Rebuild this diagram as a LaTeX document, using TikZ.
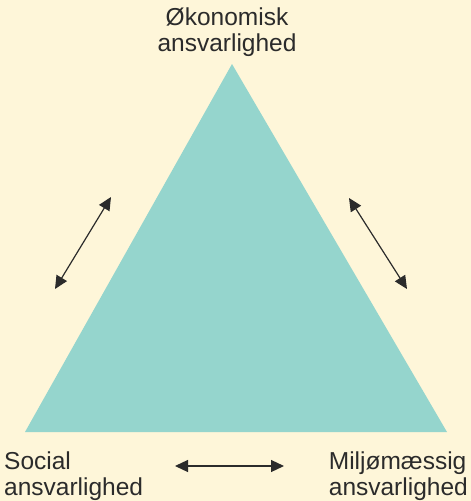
\documentclass[tikz,border=0pt]{standalone}
\usepackage{fontspec}
\setmainfont{Liberation Sans}
\usetikzlibrary{arrows.meta}

\begin{document}
\begin{tikzpicture}[x = 1pt, y = -1pt,
    label text/.style = {text = textGray, inner sep = 0pt, align = left,
      font = \fontsize{24.5}{26}\selectfont},
    link/.style = {{Triangle[length = 13pt, width = 12pt]}-{Triangle[length = 13pt, width = 12pt]},
      line width = 1.2pt, draw = textGray}]
  \definecolor{paper}{HTML}{FEF6D9};
  \definecolor{teal}{HTML}{95D5CD};
  \definecolor{textGray}{HTML}{2B2B2B};

  \fill[paper] (0, 0) rectangle (471, 501);
  \useasboundingbox (0, 0) rectangle (471, 501);

  \coordinate (A) at (232, 64);
  \coordinate (B) at (447, 432);
  \coordinate (C) at (25, 432);
  \fill[teal] (A) -- (B) -- (C) -- cycle;

  \node[label text, align = center, anchor = south] (oekonomi) at (227, 57) {Økonomisk\\ansvarlighed};
  \node[label text, anchor = north west] (social) at (4, 452) {Social\\ansvarlighed};
  \node[label text, anchor = north east] (miljoe) at (468, 452) {Miljømæssig\\ansvarlighed};

  \coordinate (L1) at (55, 289);
  \coordinate (L2) at (111, 197);
  \coordinate (R1) at (349, 198);
  \coordinate (R2) at (407, 289);
  \coordinate (S1) at (175, 466);
  \coordinate (S2) at (284, 466);

  \draw[link] (L1) -- (L2);
  \draw[link] (R1) -- (R2);
  \draw[link] (S1) -- (S2);
\end{tikzpicture}
\end{document}
